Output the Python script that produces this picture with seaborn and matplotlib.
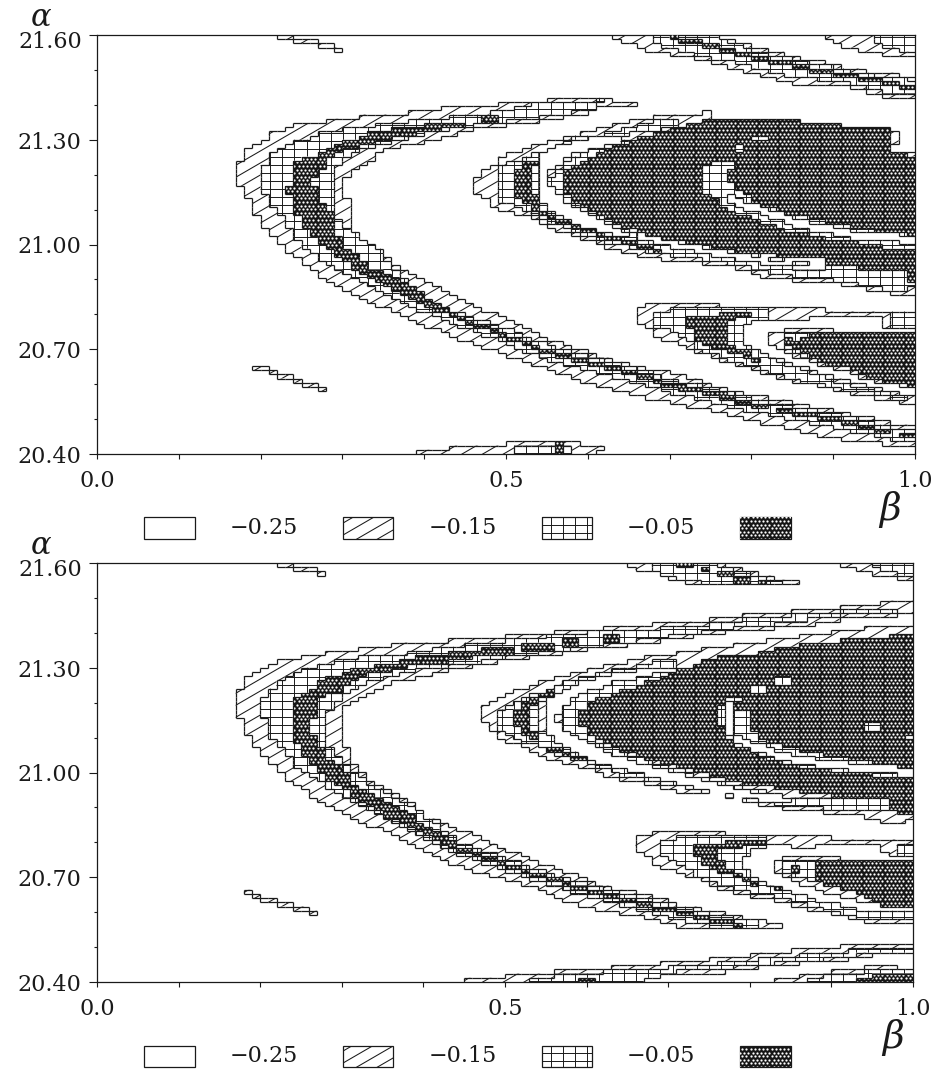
import numpy as np
import matplotlib
matplotlib.use("Agg")
import matplotlib.pyplot as plt
import seaborn as sns
from matplotlib.colors import ListedColormap
from matplotlib.collections import LineCollection
from matplotlib.patches import Rectangle
from matplotlib.path import Path as MplPath
from matplotlib.transforms import IdentityTransform, ScaledTranslation

# ---- axis values and legend ------------------------------------------------
BETA_TICKS = [0.0, 0.1, 0.2, 0.3, 0.4, 0.5, 0.6, 0.7, 0.8, 0.9, 1.0]
BETA_LABELS = ["0.0", "", "", "", "", "0.5", "", "", "", "", "1.0"]
ALPHA_MAJOR = [21.60, 21.30, 21.00, 20.70, 20.40]
ALPHA_LABELS = ["21.60", "21.30", "21.00", "20.70", "20.40"]
ALPHA_MINOR = [21.5, 21.4, 21.2, 21.1, 20.9, 20.8, 20.6, 20.5]
LEGEND_VALUES = ["\u22120.25", "\u22120.15", "\u22120.05"]

t_bigc_diag = [(.655,21.405),(.615,21.417),(.554,21.414),(.468,21.397),(.435,21.394),(.386,21.379),(.334,21.371),(.293,21.356),(.252,21.348),(.214,21.319),(.183,21.27),(.171,21.228),(.171,21.185),(.191,21.107),(.202,21.056),(.224,21.004),(.252,20.947),(.293,20.878),(.444,20.726),(.493,20.692),(.554,20.64),(.603,20.603),(.664,20.568),(.704,20.546),(.758,20.52),(.826,20.483),(.892,20.448),(.941,20.434),(.973,20.425),(1.0,20.425),(1.0,20.474),(.990,20.483),(.939,20.505),(.857,20.546),(.786,20.577),(.725,20.617),(.685,20.64),(.636,20.663),(.566,20.72),(.533,20.749),(.493,20.803),(.463,20.821),(.404,20.889),(.362,20.947),(.342,20.984),(.313,21.041),(.313,21.09),(.303,21.136),(.303,21.193),(.324,21.228),(.342,21.256),(.362,21.279),(.383,21.285),(.423,21.308),(.444,21.319),(.472,21.334),(.542,21.356),(.587,21.371),(.615,21.391),(.655,21.394)]
t_bigc_grid = [(.202,21.156),(.202,21.219),(.213,21.256),(.240,21.291),(.276,21.322),(.313,21.334),(.362,21.351),(.411,21.362),(.480,21.379),(.542,21.405),(.615,21.414),(.615,21.391),(.542,21.365),(.472,21.348),(.444,21.334),(.411,21.322),(.362,21.299),(.322,21.27),(.303,21.248),(.285,21.207),(.291,21.142),(.285,21.113),(.293,21.076),(.313,21.033),(.342,20.993),(.395,20.849),(.444,20.806),(.484,20.775),(.521,20.74),(.554,20.712),(.603,20.68),(.664,20.643),(.704,20.614),(.762,20.586),(.790,20.566),(.851,20.537),(.921,20.508),(.969,20.48),(1.0,20.468),(1.0,20.437),(.969,20.442),(.921,20.468),(.851,20.497),(.790,20.526),(.762,20.546),(.704,20.574),(.664,20.603),(.603,20.637),(.554,20.669),(.521,20.697),(.484,20.732),(.444,20.766),(.395,20.812),(.293,20.927),(.263,20.975),(.242,21.021),(.224,21.084),(.214,21.107)]
t_bigc_dark = [(.243,21.236),(.254,21.248),(.273,21.265),(.297,21.293),(.334,21.319),(.362,21.331),(.395,21.342),(.423,21.354),(.454,21.354),(.454,21.336),(.423,21.331),(.395,21.319),(.362,21.308),(.334,21.293),(.297,21.27),(.282,21.248),(.282,21.228),(.263,21.185),(.273,21.119),(.282,21.113),(.293,21.033),(.303,20.993),(.334,20.935),(.370,20.898),(.444,20.795),(.484,20.76),(.521,20.726),(.554,20.697),(.603,20.666),(.664,20.631),(.704,20.603),(.762,20.577),(.790,20.554),(.851,20.526),(.921,20.497),(.969,20.468),(1.0,20.457),(1.0,20.445),(.969,20.457),(.921,20.485),(.851,20.514),(.790,20.543),(.762,20.563),(.704,20.591),(.664,20.62),(.603,20.654),(.554,20.686),(.521,20.715),(.484,20.749),(.444,20.783),(.355,20.878),(.313,20.932),(.293,20.97),(.273,21.007),(.252,21.056),(.242,21.09),(.243,21.15),(.232,21.15),(.232,21.164),(.243,21.164)]
t_arm_block = [(.472,21.351),(.485,21.351),(.485,21.366),(.472,21.366)]

t_inner_diag = [(.463,21.194),(.485,21.232),(.505,21.261),(.546,21.294),(.586,21.318),(.635,21.347),(.684,21.366),(.745,21.38),(.747,21.361),(.798,21.366),(.847,21.357),(.908,21.342),(.970,21.333),(.980,21.314),(.970,21.271),(1.0,21.256),(1.0,20.855),(.970,20.86),(.900,20.889),(.868,20.893),(.817,20.908),(.766,20.941),(.705,20.955),(.684,20.96),(.635,20.984),(.574,21.032),(.525,21.079),(.489,21.103),(.472,21.142),(.463,21.151)]
t_inner_grid = [(.485,21.218),(.521,21.251),(.566,21.285),(.627,21.323),(.688,21.356),(.713,21.366),(.713,21.337),(.635,21.314),(.586,21.309),(.536,21.242),(.536,21.142),(.582,21.08),(.672,21.037),(.782,20.974),(.886,20.941),(1.0,20.941),(1.0,20.879),(.974,20.869),(.900,20.898),(.868,20.903),(.817,20.922),(.766,20.951),(.705,20.97),(.635,20.998),(.574,21.046),(.525,21.094),(.489,21.132),(.485,21.165)]
t_inner_blob = [(.505,21.194),(.521,21.232),(.544,21.251),(.544,21.232),(.525,21.213),(.533,21.185),(.536,21.127),(.546,21.089),(.542,21.084),(.521,21.127),(.505,21.151)]
t_inner_thread = [(.546,21.084),(.578,21.06),(.607,21.037),(.639,21.013),(.672,20.994),(.692,20.984)]
t_white_strip = [(.535,21.222),(.545,21.27),(.587,21.30),(.623,21.313),(.636,21.313),(.636,21.293),(.606,21.276),(.578,21.256),(.554,21.213),(.554,21.176),(.566,21.136),(.587,21.104),(.615,21.079),(.648,21.047),(.688,21.021),(.746,20.993),(.811,20.975),(.886,20.958),(.886,20.932),(.851,20.932),(.782,20.958),(.753,20.97),(.704,20.992),(.672,21.01),(.615,21.04),(.582,21.06),(.554,21.096),(.535,21.142)]
t_core_grid = [(.554,21.194),(.566,21.223),(.603,21.271),(.635,21.29),(.688,21.318),(.688,21.261),(.573,21.146),(.648,21.032),(.886,20.941),(.851,20.946),(.745,20.994),(.672,21.022),(.615,21.075),(.586,21.103),(.566,21.137),(.554,21.165)]
t_core_dark = [(.573,21.218),(.603,21.251),(.623,21.275),(.668,21.309),(.717,21.337),(.747,21.361),(.798,21.366),(.847,21.357),(.908,21.342),(.970,21.333),(.970,21.271),(1.0,21.247),(1.0,20.889),(.990,20.889),(.990,20.927),(.945,20.931),(.888,20.941),(.886,20.96),(.811,20.974),(.745,20.994),(.672,21.027),(.615,21.08),(.586,21.113),(.573,21.146)]
t_notch_grid = [(.737,21.194),(.747,21.242),(.776,21.242),(.776,21.223),(.766,21.194),(.776,21.175),(.807,21.122),(.835,21.094),(.872,21.075),(.933,21.046),(1.0,21.027),(1.0,20.984),(.933,21.003),(.884,21.022),(.835,21.046),(.794,21.08),(.766,21.108),(.747,21.146),(.737,21.156)]
t_notch_white = [(.766,21.137),(.811,21.099),(.859,21.059),(.921,21.03),(1.0,21.013)]
t_hole_a = [(.798,21.309),(.817,21.309),(.817,21.294),(.798,21.294)]
t_hole_b = [(.778,21.284),(.79,21.284),(.79,21.27),(.778,21.27)]

t_band1_diag = [(.625,21.6),(.737,21.6),(.778,21.581),(.835,21.547),(.888,21.524),(.933,21.5),(1.0,21.481),(1.0,21.414),(.970,21.414),(.933,21.447),(.851,21.462),(.790,21.5),(.729,21.533),(.684,21.552),(.625,21.59)]
t_band1_grid = [(.676,21.6),(.749,21.6),(.811,21.552),(.888,21.514),(.933,21.49),(1.0,21.471),(1.0,21.428),(.965,21.433),(.912,21.466),(.851,21.481),(.790,21.514),(.729,21.547),(.676,21.576)]
t_band1_thread = [(.696,21.595),(.729,21.581),(.770,21.557),(.811,21.533),(.851,21.514),(.892,21.495),(.933,21.481),(.974,21.457),(1.0,21.447)]
t_band2_diag = [(.888,21.6),(1.0,21.6),(1.0,21.533),(.945,21.552),(.912,21.571),(.888,21.59)]
t_band2_grid = [(.949,21.6),(1.0,21.6),(1.0,21.55),(.965,21.562),(.949,21.586)]
t_snip_top = [(.221,21.594),(.260,21.58),(.303,21.557)]
t_snip_low = [(.191,20.654),(.236,20.617),(.282,20.583)]
t_base_diag = [(.392,20.40),(.392,20.413),(.452,20.42),(.513,20.434),(.595,20.434),(.595,20.425),(.625,20.422),(.625,20.409),(.582,20.40)]
t_base_grid = [(.513,20.425),(.585,20.428),(.585,20.40),(.513,20.40)]
t_base_dark = [(.564,20.43),(.574,20.43),(.574,20.403),(.564,20.403)]

t_c3_diag = [(.656,20.821),(.684,20.831),(.758,20.831),(.758,20.821),(.888,20.821),(.888,20.812),(1.0,20.812),(1.0,20.759),(.957,20.764),(.957,20.797),(.888,20.797),(.868,20.788),(.798,20.785),(.788,20.759),(.786,20.735),(.811,20.683),(.837,20.673),(.855,20.654),(.898,20.621),(.949,20.592),(.978,20.573),(1.0,20.568),(1.0,20.544),(.978,20.549),(.925,20.573),(.888,20.592),(.837,20.616),(.807,20.64),(.766,20.664),(.729,20.697),(.688,20.735),(.666,20.769),(.656,20.773)]
t_c3_grid = [(.684,20.807),(.721,20.821),(.823,20.821),(.823,20.788),(.798,20.785),(.788,20.759),(.786,20.735),(.809,20.688),(.837,20.664),(.898,20.613),(.949,20.584),(1.0,20.559),(1.0,20.549),(.961,20.568),(.898,20.592),(.837,20.625),(.807,20.645),(.766,20.673),(.737,20.697),(.717,20.735),(.684,20.764)]
t_c3_side = [(.965,20.807),(1.0,20.807),(1.0,20.764),(.965,20.764)]
t_c3_dark = [(.717,20.783),(.725,20.793),(.758,20.797),(.766,20.807),(.796,20.807),(.796,20.797),(.778,20.793),(.766,20.75),(.778,20.702),(.794,20.697),(.811,20.668),(.807,20.664),(.778,20.688),(.737,20.716),(.725,20.764)]
t_c4_diag = [(.817,20.745),(.837,20.75),(.837,20.762),(.898,20.762),(.898,20.75),(1.0,20.75),(1.0,20.592),(.949,20.611),(.898,20.649),(.868,20.668),(.837,20.697),(.817,20.721)]
t_c4_grid = [(.837,20.75),(.892,20.75),(.892,20.678),(.868,20.678),(.837,20.711)]
t_c4_dark = [(.839,20.735),(.849,20.74),(.857,20.716),(.868,20.745),(1.0,20.75),(1.0,20.592),(.949,20.616),(.929,20.64),(.898,20.654),(.868,20.678),(.857,20.702),(.845,20.707)]

# ---- lower panel -----------------------------------------------------------
b_bigc_diag = [(.171,21.222),(.181,21.267),(.202,21.294),(.222,21.318),(.253,21.33),(.283,21.343),(.324,21.356),(.373,21.368),(.432,21.378),(.445,21.379),(.504,21.391),(.567,21.403),(.624,21.415),(.686,21.427),(.747,21.438),(.796,21.451),(.859,21.463),(.910,21.475),(.971,21.489),(1.0,21.489),(1.0,21.465),(.988,21.451),(.910,21.441),(.890,21.427),(.839,21.417),(.777,21.403),(.706,21.384),(.686,21.374),(.647,21.365),(.606,21.355),(.535,21.331),(.494,21.322),(.463,21.308),(.445,21.303),(.393,21.27),(.373,21.265),(.342,21.241),(.314,21.208),(.302,21.184),(.302,21.079),(.312,21.074),(.312,21.036),(.322,21.002),(.342,20.969),(.363,20.94),(.383,20.917),(.404,20.874),(.463,20.821),(.494,20.788),(.535,20.749),(.575,20.716),(.624,20.673),(.675,20.649),(.716,20.62),(.767,20.601),(.808,20.577),(.839,20.566),(.839,20.556),(.716,20.554),(.706,20.568),(.665,20.587),(.606,20.614),(.565,20.64),(.535,20.673),(.494,20.697),(.445,20.73),(.312,20.874),(.271,20.921),(.242,20.969),(.222,21.002),(.202,21.05),(.191,21.088),(.181,21.127),(.171,21.184)]
b_bigc_grid = [(.202,21.208),(.212,21.241),(.232,21.27),(.253,21.294),(.293,21.318),(.324,21.332),(.363,21.337),(.404,21.351),(.445,21.365),(.504,21.379),(.567,21.393),(.624,21.408),(.686,21.413),(.747,21.425),(.796,21.441),(.859,21.451),(.910,21.463),(.971,21.47),(1.0,21.472),(1.0,21.465),(.971,21.46),(.910,21.451),(.839,21.427),(.777,21.413),(.706,21.393),(.647,21.374),(.606,21.36),(.535,21.341),(.463,21.317),(.432,21.308),(.393,21.294),(.363,21.279),(.324,21.256),(.302,21.217),(.283,21.17),(.283,21.084),(.293,21.05),(.312,21.007),(.332,20.969),(.355,20.94),(.383,20.912),(.445,20.80),(.486,20.766),(.522,20.738),(.559,20.709),(.588,20.69),(.624,20.666),(.665,20.642),(.698,20.623),(.722,20.618),(.767,20.59),(.808,20.577),(.808,20.556),(.767,20.556),(.722,20.575),(.665,20.608),(.624,20.632),(.588,20.656),(.559,20.675),(.522,20.704),(.486,20.732),(.445,20.766),(.355,20.874),(.312,20.921),(.283,20.959),(.242,21.017),(.232,21.06),(.222,21.069),(.212,21.103),(.212,21.155),(.202,21.16)]
b_bigc_dark = [(.242,21.208),(.253,21.232),(.263,21.241),(.283,21.27),(.314,21.294),(.342,21.308),(.393,21.33),(.432,21.343),(.469,21.346),(.469,21.334),(.444,21.32),(.393,21.313),(.363,21.298),(.322,21.275),(.302,21.241),(.283,21.222),(.273,21.208),(.273,21.16),(.263,21.16),(.263,21.112),(.273,21.108),(.273,21.074),(.283,21.06),(.283,21.041),(.302,21.017),(.312,20.969),(.342,20.931),(.373,20.893),(.445,20.789),(.486,20.755),(.522,20.727),(.559,20.698),(.588,20.679),(.624,20.655),(.665,20.631),(.698,20.612),(.722,20.607),(.741,20.593),(.767,20.579),(.792,20.572),(.792,20.56),(.767,20.567),(.741,20.581),(.722,20.595),(.698,20.60),(.665,20.619),(.624,20.643),(.588,20.667),(.559,20.686),(.522,20.715),(.486,20.743),(.445,20.777),(.355,20.874),(.312,20.936),(.283,20.979),(.273,21.002),(.253,21.05),(.253,21.084),(.242,21.088)]
b_arm_block1 = [(.473,21.341),(.514,21.341),(.514,21.355),(.473,21.355)]
b_arm_block2 = [(.524,21.353),(.555,21.353),(.555,21.367),(.524,21.367)]
b_arm_block3 = [(.575,21.365),(.590,21.365),(.590,21.379),(.575,21.379)]
b_arm_block4 = [(.624,21.377),(.635,21.377),(.635,21.391),(.624,21.391)]

b_inner_diag = [(.473,21.183),(.494,21.217),(.525,21.245),(.575,21.279),(.624,21.308),(.675,21.331),(.747,21.355),(.777,21.365),(.859,21.389),(.900,21.403),(.941,21.415),(1.0,21.427),(1.0,20.863),(.961,20.859),(.930,20.878),(.859,20.892),(.818,20.906),(.767,20.94),(.716,20.945),(.675,20.968),(.637,20.983),(.596,21.016),(.555,21.04),(.525,21.074),(.494,21.097),(.482,21.131),(.473,21.145)]
b_inner_grid = [(.494,21.183),(.527,21.217),(.575,21.26),(.624,21.288),(.675,21.317),(.714,21.327),(.714,21.308),(.637,21.288),(.575,21.245),(.545,21.198),(.545,21.117),(.604,21.045),(.665,21.011),(.727,20.969),(.796,20.93),(.890,20.926),(.951,20.93),(1.0,20.94),(1.0,20.883),(.930,20.892),(.859,20.902),(.796,20.921),(.727,20.954),(.675,20.978),(.637,20.997),(.596,21.031),(.555,21.059),(.525,21.088),(.494,21.117)]
b_inner_blob = [(.514,21.174),(.525,21.202),(.545,21.231),(.565,21.241),(.565,21.231),(.545,21.212),(.535,21.193),(.535,21.121),(.545,21.107),(.545,21.078),(.535,21.093),(.514,21.131)]
b_inner_thread = [(.547,21.078),(.575,21.054),(.604,21.035)]
b_white_strip = [(.545,21.198),(.575,21.245),(.637,21.288),(.714,21.308),(.714,21.293),(.675,21.279),(.637,21.26),(.606,21.236),(.575,21.193),(.565,21.169),(.565,21.14),(.586,21.102),(.616,21.069),(.665,21.026),(.727,20.988),(.796,20.948),(.853,20.93),(.853,20.912),(.796,20.925),(.727,20.96),(.665,21.0),(.604,21.035),(.545,21.117)]
b_core_grid = [(.565,21.169),(.575,21.198),(.606,21.236),(.637,21.26),(.675,21.279),(.714,21.293),(.714,21.255),(.586,21.159),(.616,21.083),(.727,20.997),(.796,20.954),(.853,20.935),(.796,20.948),(.727,20.988),(.665,21.026),(.616,21.069),(.586,21.102),(.565,21.14)]
b_core_dark = [(.586,21.164),(.606,21.207),(.637,21.231),(.675,21.26),(.714,21.293),(.747,21.327),(.808,21.341),(.837,21.355),(.869,21.37),(.890,21.374),(.951,21.384),(1.0,21.398),(1.0,20.883),(.971,20.887),(.971,20.926),(.951,20.926),(.890,20.935),(.853,20.949),(.796,20.968),(.727,21.007),(.665,21.045),(.616,21.093),(.596,21.131),(.586,21.136)]
b_notch_grid = [(.759,21.179),(.769,21.207),(.784,21.222),(.788,21.207),(.777,21.183),(.796,21.183),(.796,21.14),(.808,21.117),(.818,21.093),(.859,21.064),(.941,21.035),(1.0,21.011),(1.0,20.988),(.930,20.997),(.859,21.016),(.808,21.054),(.777,21.083),(.767,21.121),(.759,21.15)]
b_notch_white = [(.777,21.098),(.812,21.069),(.859,21.035),(.930,21.016),(1.0,21.002)]
b_notch_stem = [(.77,21.198),(.78,21.198),(.78,21.105),(.77,21.105)]
b_hole_a = [(.828,21.272),(.849,21.272),(.849,21.258),(.828,21.258)]
b_hole_b = [(.796,21.25),(.818,21.25),(.818,21.23),(.796,21.23)]
b_hole_c = [(.941,21.138),(.961,21.138),(.961,21.124),(.941,21.124)]
b_hole_d = [(.99,21.107),(1.0,21.107),(1.0,21.093),(.99,21.093)]

b_band1_diag = [(.645,21.6),(.762,21.6),(.808,21.57),(.839,21.556),(.859,21.546),(.859,21.537),(.747,21.537),(.716,21.546),(.686,21.57),(.645,21.589)]
b_band1_grid = [(.675,21.6),(.75,21.6),(.808,21.565),(.839,21.546),(.747,21.541),(.716,21.556),(.675,21.58)]
b_band1_d1 = [(.706,21.596),(.726,21.596),(.726,21.584),(.706,21.584)]
b_band1_d2 = [(.737,21.584),(.747,21.584),(.747,21.572),(.737,21.572)]
b_band1_d3 = [(.759,21.572),(.777,21.572),(.777,21.56),(.759,21.56)]
b_band1_d4 = [(.777,21.558),(.797,21.558),(.797,21.546),(.777,21.546)]
b_band1_d5 = [(.808,21.548),(.818,21.548),(.818,21.536),(.808,21.536)]
b_band2_diag = [(.910,21.6),(1.0,21.6),(1.0,21.549),(.961,21.565),(.930,21.584),(.910,21.59)]
b_band2_grid = [(.951,21.6),(1.0,21.6),(1.0,21.56),(.975,21.575),(.951,21.59)]
b_snip_top = [(.222,21.594),(.249,21.586),(.283,21.566)]
b_snip_low = [(.181,20.663),(.218,20.626),(.271,20.597)]

b_low1_diag = [(.453,20.41),(.525,20.423),(.586,20.434),(.655,20.447),(.716,20.458),(.777,20.472),(.828,20.484),(.890,20.498),(.951,20.509),(1.0,20.511),(1.0,20.487),(.959,20.482),(.910,20.463),(.853,20.453),(.796,20.439),(.763,20.425),(.706,20.425),(.665,20.40),(.453,20.40)]
b_low1_grid = [(.525,20.41),(.586,20.425),(.655,20.434),(.716,20.444),(.777,20.458),(.828,20.47),(.890,20.485),(.951,20.496),(1.0,20.496),(1.0,20.487),(.959,20.487),(.910,20.472),(.853,20.458),(.796,20.449),(.763,20.434),(.706,20.43),(.665,20.40),(.525,20.40)]
b_low1_d1 = [(.645,20.425),(.655,20.425),(.655,20.40),(.645,20.40)]
b_low1_d2 = [(.586,20.412),(.606,20.412),(.606,20.40),(.586,20.40)]
b_low2_diag = [(.828,20.40),(.828,20.408),(.869,20.42),(.910,20.434),(.961,20.449),(.979,20.449),(.979,20.43),(1.0,20.434),(1.0,20.40)]
b_low2_grid = [(.869,20.415),(.910,20.42),(.959,20.434),(1.0,20.43),(1.0,20.40),(.869,20.40)]
b_low2_dark = [(.930,20.40),(.930,20.41),(.961,20.425),(1.0,20.43),(1.0,20.40)]

b_c3_diag = [(.655,20.816),(.686,20.83),(.767,20.83),(.767,20.821),(.900,20.821),(.900,20.811),(1.0,20.811),(1.0,20.764),(.979,20.764),(.959,20.773),(.959,20.802),(.869,20.788),(.818,20.795),(.798,20.773),(.788,20.745),(.798,20.716),(.808,20.687),(.828,20.678),(.839,20.659),(.859,20.64),(.890,20.625),(.930,20.601),(.951,20.592),(1.0,20.592),(1.0,20.57),(.951,20.568),(.930,20.582),(.890,20.601),(.839,20.63),(.808,20.644),(.767,20.668),(.726,20.702),(.686,20.735),(.665,20.778),(.655,20.788)]
b_c3_grid = [(.686,20.797),(.726,20.821),(.818,20.821),(.818,20.792),(.798,20.773),(.788,20.745),(.798,20.721),(.808,20.692),(.839,20.663),(.890,20.63),(.951,20.601),(1.0,20.601),(1.0,20.577),(.951,20.577),(.890,20.611),(.839,20.64),(.808,20.654),(.767,20.678),(.737,20.702),(.716,20.735),(.686,20.764)]
b_c3_side = [(.979,20.797),(1.0,20.797),(1.0,20.764),(.979,20.764)]
b_c3_dark = [(.726,20.778),(.737,20.797),(.767,20.797),(.777,20.807),(.818,20.807),(.818,20.797),(.777,20.788),(.757,20.778),(.767,20.745),(.777,20.721),(.796,20.697),(.808,20.687),(.818,20.678),(.808,20.678),(.777,20.706),(.747,20.735),(.737,20.754)]
b_c3_spot = [(.828,20.678),(.839,20.678),(.839,20.665),(.828,20.665)]
b_c4_diag = [(.828,20.745),(.849,20.759),(.910,20.762),(.910,20.751),(1.0,20.751),(1.0,20.616),(.971,20.616),(.930,20.635),(.890,20.659),(.859,20.683),(.839,20.706),(.828,20.721)]
b_c4_grid = [(.839,20.749),(.877,20.749),(.877,20.692),(.859,20.697),(.839,20.721)]
b_c4_dark = [(.879,20.751),(1.0,20.751),(1.0,20.616),(.971,20.616),(.951,20.63),(.930,20.659),(.879,20.692)]
b_c4_spot = [(.849,20.737),(.859,20.737),(.859,20.714),(.849,20.714)]

THREAD_HALF = 0.006
STRIP_HALF = 0.012

N_ROWS, N_COLS = 100, 100
ALPHA_TOP, ALPHA_SPAN = 21.6, 1.2
WHITE, DIAG, GRID, DARK = 0, 1, 2, 3


def ribbon(center, half):
    c = np.array(center)
    up = np.column_stack([c[:, 0], c[:, 1] + half])
    lo = np.column_stack([c[:, 0], c[:, 1] - half])[::-1]
    return np.vstack([up, lo])


upper_regions = [
    (t_band1_diag, DIAG), (t_band1_grid, GRID), (ribbon(t_band1_thread, THREAD_HALF), DARK),
    (t_band2_diag, DIAG), (t_band2_grid, GRID),
    (ribbon(t_snip_top, THREAD_HALF), DIAG), (ribbon(t_snip_low, THREAD_HALF), DIAG),
    (t_base_diag, DIAG), (t_base_grid, GRID), (t_base_dark, DARK),
    (t_bigc_diag, DIAG), (t_bigc_grid, GRID), (t_bigc_dark, DARK), (t_arm_block, DARK),
    (t_inner_diag, DIAG), (t_inner_grid, GRID), (t_inner_blob, DARK),
    (ribbon(t_inner_thread, THREAD_HALF), DARK), (t_white_strip, WHITE),
    (t_core_grid, GRID), (t_core_dark, DARK), (t_notch_grid, GRID),
    (ribbon(t_notch_white, STRIP_HALF), WHITE), (t_hole_a, GRID), (t_hole_b, GRID),
    (t_c3_diag, DIAG), (t_c3_grid, GRID), (t_c3_side, GRID), (t_c3_dark, DARK),
    (t_c4_diag, DIAG), (t_c4_grid, GRID), (t_c4_dark, DARK),
]
lower_regions = [
    (b_band1_diag, DIAG), (b_band1_grid, GRID), (b_band1_d1, DARK), (b_band1_d2, DARK),
    (b_band1_d3, DARK), (b_band1_d4, DARK), (b_band1_d5, DARK),
    (b_band2_diag, DIAG), (b_band2_grid, GRID),
    (ribbon(b_snip_top, THREAD_HALF), DIAG), (ribbon(b_snip_low, THREAD_HALF), DIAG),
    (b_low1_diag, DIAG), (b_low1_grid, GRID), (b_low1_d1, DARK), (b_low1_d2, DARK),
    (b_low2_diag, DIAG), (b_low2_grid, GRID), (b_low2_dark, DARK),
    (b_bigc_diag, DIAG), (b_bigc_grid, GRID), (b_bigc_dark, DARK),
    (b_arm_block1, DARK), (b_arm_block2, DARK), (b_arm_block3, DARK), (b_arm_block4, DARK),
    (b_inner_diag, DIAG), (b_inner_grid, GRID), (b_inner_blob, DARK),
    (ribbon(b_inner_thread, THREAD_HALF), DARK), (b_white_strip, WHITE),
    (b_core_grid, GRID), (b_core_dark, DARK), (b_notch_grid, GRID),
    (ribbon(b_notch_white, STRIP_HALF), WHITE), (b_notch_stem, WHITE),
    (b_hole_a, GRID), (b_hole_b, GRID), (b_hole_c, GRID), (b_hole_d, GRID),
    (b_c3_diag, DIAG), (b_c3_grid, GRID), (b_c3_side, GRID), (b_c3_dark, DARK), (b_c3_spot, DARK),
    (b_c4_diag, DIAG), (b_c4_grid, GRID), (b_c4_dark, DARK), (b_c4_spot, DARK),
]


def raster(regions):
    bb, aa = np.meshgrid((np.arange(N_COLS) + .5) / N_COLS,
                         ALPHA_TOP - (np.arange(N_ROWS) + .5) * ALPHA_SPAN / N_ROWS)
    pts = np.column_stack([bb.ravel(), aa.ravel()])
    level = np.zeros((N_ROWS, N_COLS), int)
    for poly, lev in regions:
        inside = MplPath(np.asarray(poly)).contains_points(pts).reshape(level.shape)
        level[inside] = lev
    return level


def mask_path(mask):
    verts, codes = [], []
    for i in range(mask.shape[0]):
        row = np.concatenate([[0], mask[i].astype(int), [0]])
        d = np.diff(row)
        for s, e in zip(np.where(d == 1)[0], np.where(d == -1)[0]):
            verts += [(s, i), (e, i), (e, i + 1), (s, i + 1), (s, i)]
            codes += [MplPath.MOVETO, MplPath.LINETO, MplPath.LINETO, MplPath.LINETO, MplPath.CLOSEPOLY]
    if not verts:
        return None
    return MplPath(verts, codes)


INK = "#1a1a1a"
W, H = 935, 1070


def diag_lines(ax, path, tr):
    segs = [[(0, c), (W, c + 0.58 * W)] for c in np.arange(-600, H, 12.0)]
    lc = LineCollection(segs, colors=INK, linewidths=0.75, transform=IdentityTransform())
    ax.add_collection(lc, autolim=False)
    lc.set_clip_path(path, tr)


def grid_lines(ax, path, tr):
    segs = [[(x, 0), (x, H)] for x in np.arange(1.5, W, 12.2)]
    segs += [[(0, y), (W, y)] for y in np.arange(1.5, H, 8.0)]
    lc = LineCollection(segs, colors=INK, linewidths=0.7, transform=IdentityTransform())
    ax.add_collection(lc, autolim=False)
    lc.set_clip_path(path, tr)


def dark_dots(ax, path, tr, box):
    x0, y0, x1, y1 = box
    xs, ys = [], []
    for k, y in enumerate(np.arange(y0, y1, 3.6)):
        x = np.arange(x0 + (k % 2) * 2.1, x1, 4.2)
        xs.append(x)
        ys.append(np.full_like(x, y))
    pc = ax.scatter(np.concatenate(xs), np.concatenate(ys), s=2.6, c="white", linewidths=0,
                    marker="o", transform=IdentityTransform(), zorder=3)
    pc.set_clip_path(path, tr)


sns.set_theme(style="ticks")
plt.rcParams["font.family"] = ["DejaVu Serif"]
plt.rcParams["mathtext.fontset"] = "dejavuserif"
plt.rcParams["axes.linewidth"] = 0.8

fig = plt.figure(figsize=(W / 100, H / 100), dpi=100, facecolor="white")
cmap = ListedColormap(["white", "white", "white", "#161616"])
TICK_PT = 16


def pos(left, right, top, bottom):
    return [left / W, 1 - bottom / H, (right - left) / W, (bottom - top) / H]


def a2y(a):
    return (ALPHA_TOP - np.asarray(a)) / ALPHA_SPAN * N_ROWS


def panel(rect, regions):
    ax = fig.add_axes(rect)
    level = raster(regions)
    sns.heatmap(level, ax=ax, cmap=cmap, vmin=-.5, vmax=3.5, cbar=False,
                xticklabels=False, yticklabels=False, square=False)
    ax.autoscale(False)
    for s in ax.spines.values():
        s.set_visible(True)
        s.set_linewidth(0.9)
        s.set_color(INK)
    tr = ax.transData
    for lev, fn in ((DIAG, diag_lines), (GRID, grid_lines)):
        p = mask_path(level == lev)
        if p is not None:
            fn(ax, p, tr)
    fig.canvas.draw()
    dark_dots(ax, mask_path(level == DARK), tr, ax.bbox.extents)
    # staircase outlines between the levels
    segs = []
    padded = np.pad(level, 1)
    for i in range(N_ROWS):
        for j in range(N_COLS):
            v = padded[i + 1, j + 1]
            if v != padded[i + 1, j + 2] and j < N_COLS - 1:
                segs.append([(j + 1, i), (j + 1, i + 1)])
            if v != padded[i + 2, j + 1] and i < N_ROWS - 1:
                segs.append([(j, i + 1), (j + 1, i + 1)])
    ax.add_collection(LineCollection(segs, colors=INK, linewidths=0.9, zorder=4), autolim=False)

    ax.set_xticks(np.array(BETA_TICKS) * N_COLS)
    ax.set_xticklabels(BETA_LABELS, rotation=0, fontsize=TICK_PT, color=INK)
    ax.set_yticks(a2y(ALPHA_MAJOR))
    ax.set_yticklabels(ALPHA_LABELS, rotation=0, fontsize=TICK_PT, color=INK, va="center")
    ax.set_yticks(a2y(ALPHA_MINOR), minor=True)
    ax.tick_params(axis="x", length=3.5, width=0.8, pad=8, color=INK, bottom=True)
    ax.tick_params(axis="y", which="major", length=5.5, width=0.8, pad=5.5, color=INK, left=True)
    ax.tick_params(axis="y", which="minor", length=4, width=0.8, direction="inout", color=INK, left=True)
    for k, lbl in enumerate(ax.get_yticklabels()):
        drop = (5 if k == 0 else 2) / 72
        lbl.set_transform(lbl.get_transform() + ScaledTranslation(0, -drop, fig.dpi_scale_trans))
    return ax


ax_top = panel(pos(97, 915, 35, 454), upper_regions)
ax_low = panel(pos(97, 913, 563, 982), lower_regions)

# legend strips and symbol labels, placed in picture pixels
ax_leg = fig.add_axes([0, 0, 1, 1], zorder=5)
ax_leg.set_xlim(0, W)
ax_leg.set_ylim(H, 0)
ax_leg.axis("off")
ax_leg.patch.set_alpha(0)
fig.canvas.draw()

for top, bottom, a_y, b_x, b_y in ((517, 539, 17, 890, 509), (1046, 1067, 545, 893, 1037)):
    for k, (x0, x1) in enumerate(((144, 195), (343, 393), (542, 592), (740, 791))):
        box = MplPath([(x0, top), (x1, top), (x1, bottom), (x0, bottom), (x0, top)])
        ax_leg.add_patch(Rectangle((x0, top), x1 - x0, bottom - top, fc="#161616" if k == 3 else "white",
                                   ec=INK, lw=0.9))
        if k == 1:
            diag_lines(ax_leg, box, ax_leg.transData)
        elif k == 2:
            grid_lines(ax_leg, box, ax_leg.transData)
        elif k == 3:
            dark_dots(ax_leg, box, ax_leg.transData, (x0, H - bottom, x1, H - top))
    mid = (top + bottom) / 2
    for x, t in zip((264, 463, 661), LEGEND_VALUES):
        ax_leg.text(x, mid, t, ha="center", va="center", fontsize=16, color=INK)
    ax_leg.text(41, a_y, r"$\alpha$", ha="center", va="center", fontsize=22, color=INK)
    ax_leg.text(b_x, b_y, r"$\beta$", ha="center", va="center", fontsize=27, color=INK)

fig.savefig("out.png", dpi=100, facecolor="white")
